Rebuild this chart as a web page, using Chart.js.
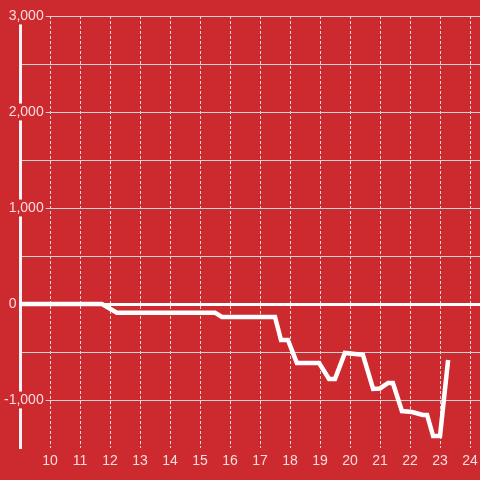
<!DOCTYPE html>
<html>
<head>
<meta charset="utf-8">
<style>
  html, body { margin: 0; padding: 0; background: #cc2a2f; }
  #wrap { width: 480px; height: 480px; }
</style>
<script src="https://cdn.jsdelivr.net/npm/chart.js@4"></script>
</head>
<body>
<div id="wrap"><canvas id="chart"></canvas></div>
<script>
// hour of day and running total
const hours = [9.0, 11.73, 12.23, 15.5, 15.73, 17.5, 17.7, 17.93, 18.23, 18.97, 19.3, 19.5, 19.83, 20.17, 20.43, 20.77, 21.0, 21.27, 21.43, 21.73, 22.07, 22.43, 22.57, 22.77, 23.0, 23.27];
const totals = [0, 0, -90, -90, -135, -135, -375, -375, -615, -615, -780, -780, -510, -520, -530, -885, -880, -823, -823, -1115, -1125, -1156, -1156, -1375, -1375, -583];

const bg = "#cc2a2f";
const labelColor = "rgba(255, 235, 235, 0.92)";
const font = { family: "'Liberation Sans', Arial, sans-serif", size: 14 };

const points = hours.map((h, i) => ({ x: h, y: totals[i] }));

const ctx = document.getElementById("chart").getContext("2d");
new Chart(ctx, {
  type: "line",
  data: {
    datasets: [
      {
        data: points,
        borderColor: "#ffffff",
        borderWidth: 4.5,
        pointRadius: 0,
        tension: 0,
        fill: false,
      },
    ],
  },
  options: {
    responsive: true,
    maintainAspectRatio: false,
    animation: false,
    layout: { padding: { top: 16, right: 0, left: 0, bottom: 0 } },
    plugins: {
      legend: { display: false },
      tooltip: { enabled: false },
    },
    scales: {
      x: {
        type: "linear",
        min: 9,
        max: 24.333,
        border: { display: false, dash: [3, 2] },
        grid: {
          color: "rgba(235, 235, 235, 0.9)",
          lineWidth: 1,
          drawTicks: false,
        },
        ticks: {
          stepSize: 1,
          includeBounds: false,
          padding: 5,
          color: labelColor,
          font: font,
          callback: (v) => (v === 9 ? "" : String(v)),
        },
        afterFit: (scale) => {
          scale.height = 32;
          scale.paddingLeft = 0;
          scale.paddingRight = 0;
        },
      },
      y: {
        min: -1500,
        max: 3000,
        border: { display: true, color: "#f4f4f4", width: 3 },
        grid: {
          drawTicks: false,
          color: (c) =>
            c.tick.value === 0 ? "#ffffff" : c.tick.value === -1500 ? "rgba(0,0,0,0)" : "#d4d4d4",
          lineWidth: (c) => (c.tick.value === 0 ? 3 : 1),
        },
        ticks: {
          stepSize: 500,
          mirror: true,
          crossAlign: "far",
          padding: -16,
          color: labelColor,
          font: font,
          showLabelBackdrop: true,
          backdropColor: (c) =>
            c.tick && c.tick.value % 1000 === 0 && c.tick.value !== 0 ? bg : "rgba(0,0,0,0)",
          backdropPadding: { top: 0, bottom: 0, left: 2, right: 2 },
          callback: (v) => {
            if (v === 0) return "0       ";
            return v % 1000 === 0 ? v.toLocaleString("en-US") : "";
          },
        },
        afterFit: (scale) => {
          scale.width = 20;
        },
      },
    },
  },
});
</script>
</body>
</html>
